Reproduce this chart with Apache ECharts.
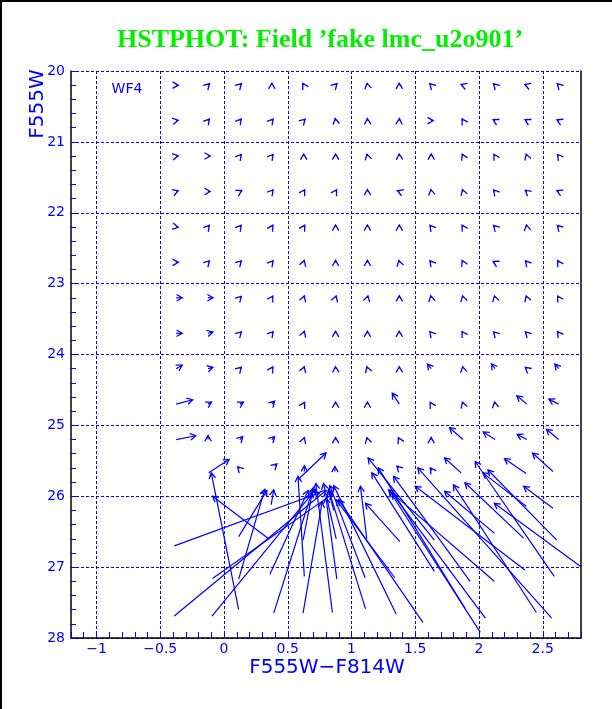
<!DOCTYPE html>
<html><head><meta charset="utf-8">
<script src="https://cdn.jsdelivr.net/npm/echarts@6/dist/echarts.min.js"></script>
<style>html,body{margin:0;padding:0;background:#fff}#c{width:612px;height:709px}</style>
</head><body><div id="c"></div>
<script>
// ---- data ----
const colX = [-0.375,-0.125,0.125,0.375,0.625,0.875,1.125,1.375,1.625,1.875,2.125,2.375,2.625];
const rowY = [20.2,20.7,21.2,21.7,22.2,22.7,23.2,23.7,24.2,24.7,25.2];
const topOutX = [
 [-0.359,-0.114,0.136,0.375,0.617,0.886,1.122,1.375,1.614,1.860,2.114,2.360,2.614],
 [-0.360,-0.115,0.135,0.385,0.636,0.872,1.124,1.376,1.641,1.867,2.111,2.361,2.611],
 [-0.360,-0.109,0.135,0.385,0.625,0.875,1.121,1.374,1.625,1.868,2.117,2.370,2.615],
 [-0.360,-0.109,0.139,0.385,0.633,0.883,1.125,1.360,1.622,1.870,2.115,2.363,2.611],
 [-0.360,-0.115,0.135,0.383,0.633,0.875,1.125,1.375,1.615,1.867,2.114,2.372,2.614],
 [-0.359,-0.114,0.136,0.385,0.630,0.875,1.125,1.371,1.615,1.868,2.111,2.365,2.617],
 [-0.328,-0.086,0.136,0.383,0.630,0.880,1.129,1.375,1.622,1.871,2.121,2.370,2.617],
 [-0.328,-0.087,0.136,0.385,0.630,0.875,1.125,1.375,1.615,1.867,2.114,2.364,2.616],
 [-0.328,-0.087,0.136,0.383,0.630,0.874,1.120,1.375,1.595,1.872,2.098,2.363,2.595],
 [-0.246,-0.098,0.152,0.397,0.633,0.875,1.125,1.320,1.617,1.870,2.122,2.297,2.548],
 [-0.221,-0.125,0.147,0.397,0.630,0.875,1.121,1.368,1.625,1.769,2.033,2.299,2.529]
];
const topOutY = [
 [20.200,20.180,20.180,20.172,20.176,20.180,20.172,20.172,20.180,20.190,20.180,20.190,20.180],
 [20.695,20.678,20.678,20.678,20.680,20.672,20.672,20.672,20.700,20.676,20.686,20.686,20.688],
 [21.195,21.200,21.178,21.178,21.172,21.172,21.173,21.172,21.172,21.174,21.176,21.173,21.178],
 [21.690,21.700,21.686,21.678,21.676,21.676,21.672,21.690,21.672,21.673,21.678,21.682,21.688],
 [22.205,22.178,22.178,22.176,22.176,22.172,22.172,22.172,22.178,22.176,22.180,22.172,22.180],
 [22.700,22.680,22.680,22.678,22.673,22.672,22.672,22.673,22.678,22.674,22.686,22.678,22.676],
 [23.200,23.200,23.180,23.176,23.173,23.173,23.173,23.172,23.172,23.173,23.173,23.173,23.176],
 [23.700,23.682,23.680,23.678,23.673,23.672,23.672,23.672,23.678,23.676,23.680,23.680,23.677],
 [24.151,24.182,24.180,24.176,24.173,24.172,24.173,24.172,24.135,24.172,24.131,24.182,24.135],
 [24.638,24.672,24.672,24.660,24.676,24.672,24.672,24.546,24.676,24.673,24.672,24.582,24.630],
 [25.146,25.144,25.160,25.160,25.173,25.172,25.173,25.174,25.172,25.033,25.093,25.127,25.055]
];
// faint stars: input (tail) and recovered (head)
const faintInX  = [-0.12,0.12,0.40,0.584,0.63,0.87,1.37,1.63,1.86,2.37,2.58,
  0.37,2.37,2.58,0.86,
  -0.39,0.115,0.35,1.12,1.38,1.65,2.12,2.35,2.61,0.62,0.88,
  -0.09,0.115,0.36,0.63,0.885,1.107,1.34,1.65,1.93,2.12,2.36,2.59,2.88,
  -0.39,-0.094,0.115,0.39,0.62,0.85,1.11,1.35,1.56,1.89,2.05,2.01,2.45,2.57];
const faintInY  = [25.67,25.61,25.57,25.76,25.65,25.65,25.60,25.63,25.67,25.68,25.65,
  26.12,26.14,26.17,26.20,
  26.70,26.57,26.60,26.60,26.64,26.62,26.52,26.59,26.62,26.62,26.60,
  27.16,27.17,27.10,27.13,27.17,27.15,27.15,27.06,27.20,27.20,27.04,27.13,27.10,
  27.69,27.69,27.60,27.65,27.65,27.64,27.59,27.66,27.78,27.58,27.72,27.92,27.64,27.72];
const faintOutX = [0.04,0.107,0.415,0.80,0.63,0.87,1.356,1.618,1.73,2.20,2.42,
  0.39,2.03,2.35,0.82,
  0.75,0.336,-0.09,1.07,1.11,1.13,1.73,1.89,2.07,0.70,0.78,
  0.85,0.32,0.66,0.58,0.80,0.83,0.88,1.16,1.33,1.29,1.50,1.97,2.12,
  0.80,0.72,-0.10,0.69,0.77,0.72,0.82,0.86,0.90,1.21,1.32,1.30,1.80,1.52];
const faintOutY = [25.48,25.585,25.545,25.39,25.57,25.58,25.575,25.60,25.46,25.47,25.39,
  25.91,25.67,25.86,25.92,
  25.95,25.92,26.00,25.86,26.10,25.46,25.93,25.81,25.63,25.88,25.82,
  25.97,25.90,25.92,25.72,26.02,25.85,26.05,25.67,25.72,25.91,25.86,25.51,26.10,
  25.92,25.90,25.67,25.94,26.08,25.82,25.90,25.85,26.05,25.60,25.96,25.93,25.84,25.60];
const xLabelValues = [-1,-0.5,0,0.5,1,1.5,2,2.5];
const yLabelValues = [20,21,22,23,24,25,26,27,28];

// ---- build ----
const arrows = [];
rowY.forEach((y,r)=>colX.forEach((x,c)=>arrows.push([x,y,topOutX[r][c],topOutY[r][c]])));
faintInX.forEach((x,i)=>arrows.push([x,faintInY[i],faintOutX[i],faintOutY[i]]));

const BLUE = '#0000ff';
function renderArrow(params, api){
  const p0 = api.coord([api.value(0), api.value(1)]);
  const p1 = api.coord([api.value(2), api.value(3)]);
  const ang = Math.atan2(p1[1]-p0[1], p1[0]-p0[0]);
  const L = 6.5, h = Math.PI/6;
  const b1 = [p1[0]-L*Math.cos(ang-h), p1[1]-L*Math.sin(ang-h)];
  const b2 = [p1[0]-L*Math.cos(ang+h), p1[1]-L*Math.sin(ang+h)];
  return {type:'group', children:[
    {type:'line', shape:{x1:p0[0],y1:p0[1],x2:p1[0],y2:p1[1]}, style:{stroke:BLUE,lineWidth:1.2}},
    {type:'polyline', shape:{points:[b1,[p1[0],p1[1]],b2]}, style:{stroke:BLUE,fill:null,lineWidth:1.3}}
  ]};
}
function fmtX(v){
  const k = Math.round(v*2);
  if (Math.abs(v*2-k) > 1e-6) return '';
  const val = k/2;
  if (xLabelValues.indexOf(val) < 0) return '';
  return val < 0 ? '\u2212' + String(-val) : String(val);
}
function fmtY(v){
  const r = Math.round(v);
  if (Math.abs(v-r) > 1e-6 || yLabelValues.indexOf(r) < 0) return '';
  return String(r);
}

const chart = echarts.init(document.getElementById('c'), null, {renderer:'canvas'});
chart.setOption({
  backgroundColor:'#ffffff',
  animation:false,
  grid:{left:71, top:71, width:510, height:567},
  xAxis:{type:'value', min:-1.2, max:2.8, interval:0.1,
    axisLine:{onZero:false, lineStyle:{color:'#000',width:1.5}},
    axisTick:{inside:true, length:6, lineStyle:{color:BLUE}},
    axisLabel:{formatter:fmtX, color:BLUE, fontSize:14, fontFamily:'DejaVu Sans', margin:4},
    splitLine:{show:false}},
  yAxis:[{type:'value', min:20, max:28, interval:1, inverse:true, position:'left',
    axisLine:{onZero:false, lineStyle:{color:'#000',width:1.5}},
    axisTick:{inside:true, length:5, lineStyle:{color:BLUE}},
    minorTick:{show:true, splitNumber:5, length:5, lineStyle:{color:BLUE}},
    axisLabel:{formatter:fmtY, color:BLUE, fontSize:14, fontFamily:'DejaVu Sans', margin:6},
    splitLine:{show:true, lineStyle:{color:BLUE, type:[3,2], width:1}}},
   {type:'value', min:20, max:28, position:'right', inverse:true,
    axisLine:{show:true, onZero:false, lineStyle:{color:'#000',width:1.5}},
    axisTick:{show:false}, axisLabel:{show:false}, splitLine:{show:false}}],
  graphic:[
    {type:'text', x:320, y:40, style:{text:'HSTPHOT: Field \u2019fake lmc_u2o901\u2019', fill:'#00f000',
      font:'bold 26px "Liberation Serif"', align:'center', verticalAlign:'middle'}},
    {type:'text', x:327, y:668, style:{text:'F555W\u2212F814W', fill:BLUE,
      font:'20px "DejaVu Sans"', align:'center', verticalAlign:'middle'}},
    {type:'text', x:38, y:104, rotation:Math.PI/2, style:{text:'F555W', fill:BLUE,
      font:'20px "DejaVu Sans"', align:'center', verticalAlign:'middle'}},
    {type:'text', x:127, y:89, style:{text:'WF4', fill:BLUE,
      font:'14px "DejaVu Sans"', align:'center', verticalAlign:'middle'}},
    {type:'line', shape:{x1:1,y1:0,x2:1,y2:709}, style:{stroke:'#000',lineWidth:2}},
    {type:'line', shape:{x1:0,y1:1,x2:612,y2:1}, style:{stroke:'#000',lineWidth:2}}
  ],
  series:[
    {type:'custom', clip:true, renderItem:renderArrow, data:arrows, encode:{x:[0,2], y:[1,3]}, silent:true,
     markLine:{silent:true, symbol:'none', label:{show:false},
       lineStyle:{color:BLUE, type:[3,2], width:1},
       data:xLabelValues.map(v=>({xAxis:v}))}}
  ]
});
</script></body></html>
